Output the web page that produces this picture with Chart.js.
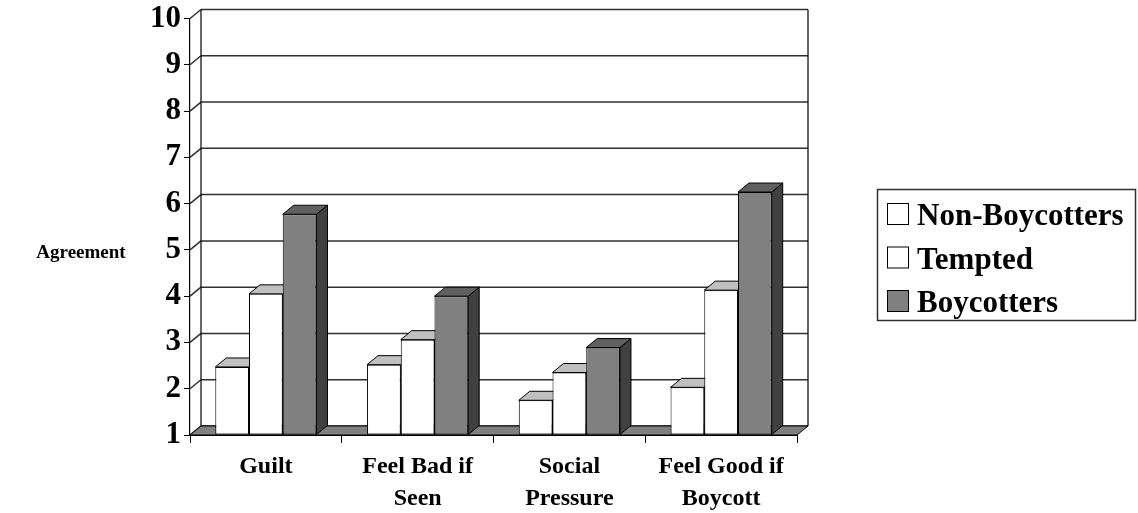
<!DOCTYPE html>
<html>
<head>
<meta charset="utf-8">
<script src="https://cdn.jsdelivr.net/npm/chart.js@4.4.1/dist/chart.umd.min.js"></script>
<style>
  html, body { margin: 0; padding: 0; background: #ffffff; }
  #chart { display: block; }
</style>
</head>
<body>
<canvas id="chart" width="1138" height="513"></canvas>
<script>
// Mean agreement ratings per attitude item, by respondent group
const categories = [['Guilt'], ['Feel Bad if', 'Seen'], ['Social', 'Pressure'], ['Feel Good if', 'Boycott']];
const seriesNames = ['Non-Boycotters', 'Tempted', 'Boycotters'];
const nonBoycotters = [2.47, 2.52, 1.75, 2.03];
const tempted = [4.05, 3.06, 2.35, 4.13];
const boycotters = [5.77, 4.00, 2.89, 6.25];
const yTicks = [1, 2, 3, 4, 5, 6, 7, 8, 9, 10];
const axisTitle = 'Agreement';

const SERIF = "'Liberation Serif', 'Times New Roman', serif";
const frontColors = ['#ffffff', '#ffffff', '#808080'];
const topColors = ['#c0c0c0', '#c0c0c0', '#606060'];
const sideColors = ['#a0a0a0', '#a0a0a0', '#404040'];
const DX = 11, DY = -9;   // depth offset of the 3-D box

function poly(ctx, pts, fill) {
  ctx.beginPath();
  ctx.moveTo(pts[0][0], pts[0][1]);
  for (let k = 1; k < pts.length; k++) ctx.lineTo(pts[k][0], pts[k][1]);
  ctx.closePath();
  if (fill) { ctx.fillStyle = fill; ctx.fill(); }
  ctx.stroke();
}

// Walls, floor and the side/top faces of every column
const box3d = {
  id: 'box3d',
  beforeDatasetsDraw(chart) {
    const { ctx, chartArea: a, scales: { y } } = chart;
    ctx.save();
    ctx.lineJoin = 'miter';

    // back-wall grid lines and left-wall diagonals
    ctx.strokeStyle = '#303030';
    ctx.lineWidth = 1.5;
    yTicks.forEach(v => {
      const py = y.getPixelForValue(v);
      ctx.beginPath();
      ctx.moveTo(a.left + DX, py + DY);
      ctx.lineTo(a.right + DX, py + DY);
      ctx.stroke();
      ctx.beginPath();
      ctx.moveTo(a.left, py);
      ctx.lineTo(a.left + DX, py + DY);
      ctx.stroke();
    });

    // back-wall verticals
    ctx.strokeStyle = '#000000';
    ctx.lineWidth = 1.2;
    const yt = y.getPixelForValue(yTicks[yTicks.length - 1]) + DY;
    const yb = y.getPixelForValue(yTicks[0]) + DY;
    [a.left + DX, a.right + DX].forEach(px => {
      ctx.beginPath();
      ctx.moveTo(px, yt);
      ctx.lineTo(px, yb);
      ctx.stroke();
    });

    // floor
    const fy = y.getPixelForValue(yTicks[0]);
    ctx.lineWidth = 1;
    poly(ctx, [[a.left, fy], [a.right, fy], [a.right + DX, fy + DY], [a.left + DX, fy + DY]], '#808080');

    // side and top faces, left to right so nearer columns cover farther ones
    const bars = [];
    chart.data.datasets.forEach((ds, i) => {
      const meta = chart.getDatasetMeta(i);
      if (meta.hidden) return;
      meta.data.forEach(el => {
        const p = el.getProps(['x', 'y', 'base', 'width'], true);
        bars.push({ x: p.x, y: p.y, base: p.base, w: p.width, i });
      });
    });
    bars.sort((p, q) => p.x - q.x);
    bars.forEach(b => {
      const l = b.x - b.w / 2, r = b.x + b.w / 2;
      poly(ctx, [[r, b.y], [r + DX, b.y + DY], [r + DX, b.base + DY], [r, b.base]], sideColors[b.i]);
      poly(ctx, [[l, b.y], [l + DX, b.y + DY], [r + DX, b.y + DY], [r, b.y]], topColors[b.i]);
    });
    ctx.restore();
  },
  afterDraw(chart) {
    const { ctx, chartArea: a } = chart;
    ctx.save();
    // horizontal value-axis title
    ctx.fillStyle = '#000000';
    ctx.font = `bold 19px ${SERIF}`;
    ctx.textAlign = 'center';
    ctx.textBaseline = 'middle';
    ctx.fillText(axisTitle, 81, (a.top + a.bottom) / 2 + 26);

    // boxed legend
    const lx = 877, ly = 189, lw = 258, lh = 131;
    ctx.strokeStyle = '#303030';
    ctx.lineWidth = 1.5;
    ctx.strokeRect(lx + 0.5, ly + 0.5, lw, lh);
    ctx.font = `bold 31px ${SERIF}`;
    ctx.textAlign = 'left';
    ctx.textBaseline = 'alphabetic';
    chart.data.datasets.forEach((ds, i) => {
      const base = 225 + i * 43.5;
      ctx.fillStyle = ds.backgroundColor;
      ctx.strokeStyle = '#000000';
      ctx.lineWidth = 1;
      ctx.fillRect(887.5, base - 21.5, 21, 21);
      ctx.strokeRect(887.5, base - 21.5, 21, 21);
      ctx.fillStyle = '#000000';
      ctx.fillText(ds.label, 917, base);
    });
    ctx.restore();
  }
};

const seriesValues = [nonBoycotters, tempted, boycotters];

new Chart(document.getElementById('chart'), {
  type: 'bar',
  data: {
    labels: categories,
    datasets: seriesNames.map((name, i) => ({
      label: name,
      data: seriesValues[i],
      backgroundColor: frontColors[i],
      borderColor: '#000000',
      borderWidth: 1,
      borderSkipped: false,
      base: yTicks[0],
      categoryPercentage: 3 / 4.5,
      barPercentage: 1
    }))
  },
  options: {
    responsive: false,
    animation: false,
    devicePixelRatio: 1,
    layout: { padding: { left: 0, top: 17, right: 341, bottom: 0 } },
    plugins: { legend: { display: false }, tooltip: { enabled: false } },
    scales: {
      x: {
        grid: { display: true, drawOnChartArea: false, drawTicks: true, tickLength: 8, color: '#000000', offset: true },
        border: { display: true, color: '#000000', width: 1 },
        ticks: {
          color: '#000000',
          padding: 8,
          maxRotation: 0,
          autoSkip: false,
          font: { family: SERIF, size: 24, weight: 'bold', lineHeight: '32px' }
        },
        afterFit(scale) { scale.height = 78; }
      },
      y: {
        min: yTicks[0],
        max: yTicks[yTicks.length - 1],
        grid: { display: true, drawOnChartArea: false, drawTicks: true, tickLength: 6, color: '#000000' },
        border: { display: true, color: '#000000', width: 1.2 },
        ticks: {
          stepSize: 1,
          color: '#000000',
          padding: 3,
          font: { family: SERIF, size: 31, weight: 'bold', lineHeight: 1 }
        },
        afterFit(scale) { scale.width = 190; }
      }
    }
  },
  plugins: [box3d]
});
</script>
</body>
</html>
